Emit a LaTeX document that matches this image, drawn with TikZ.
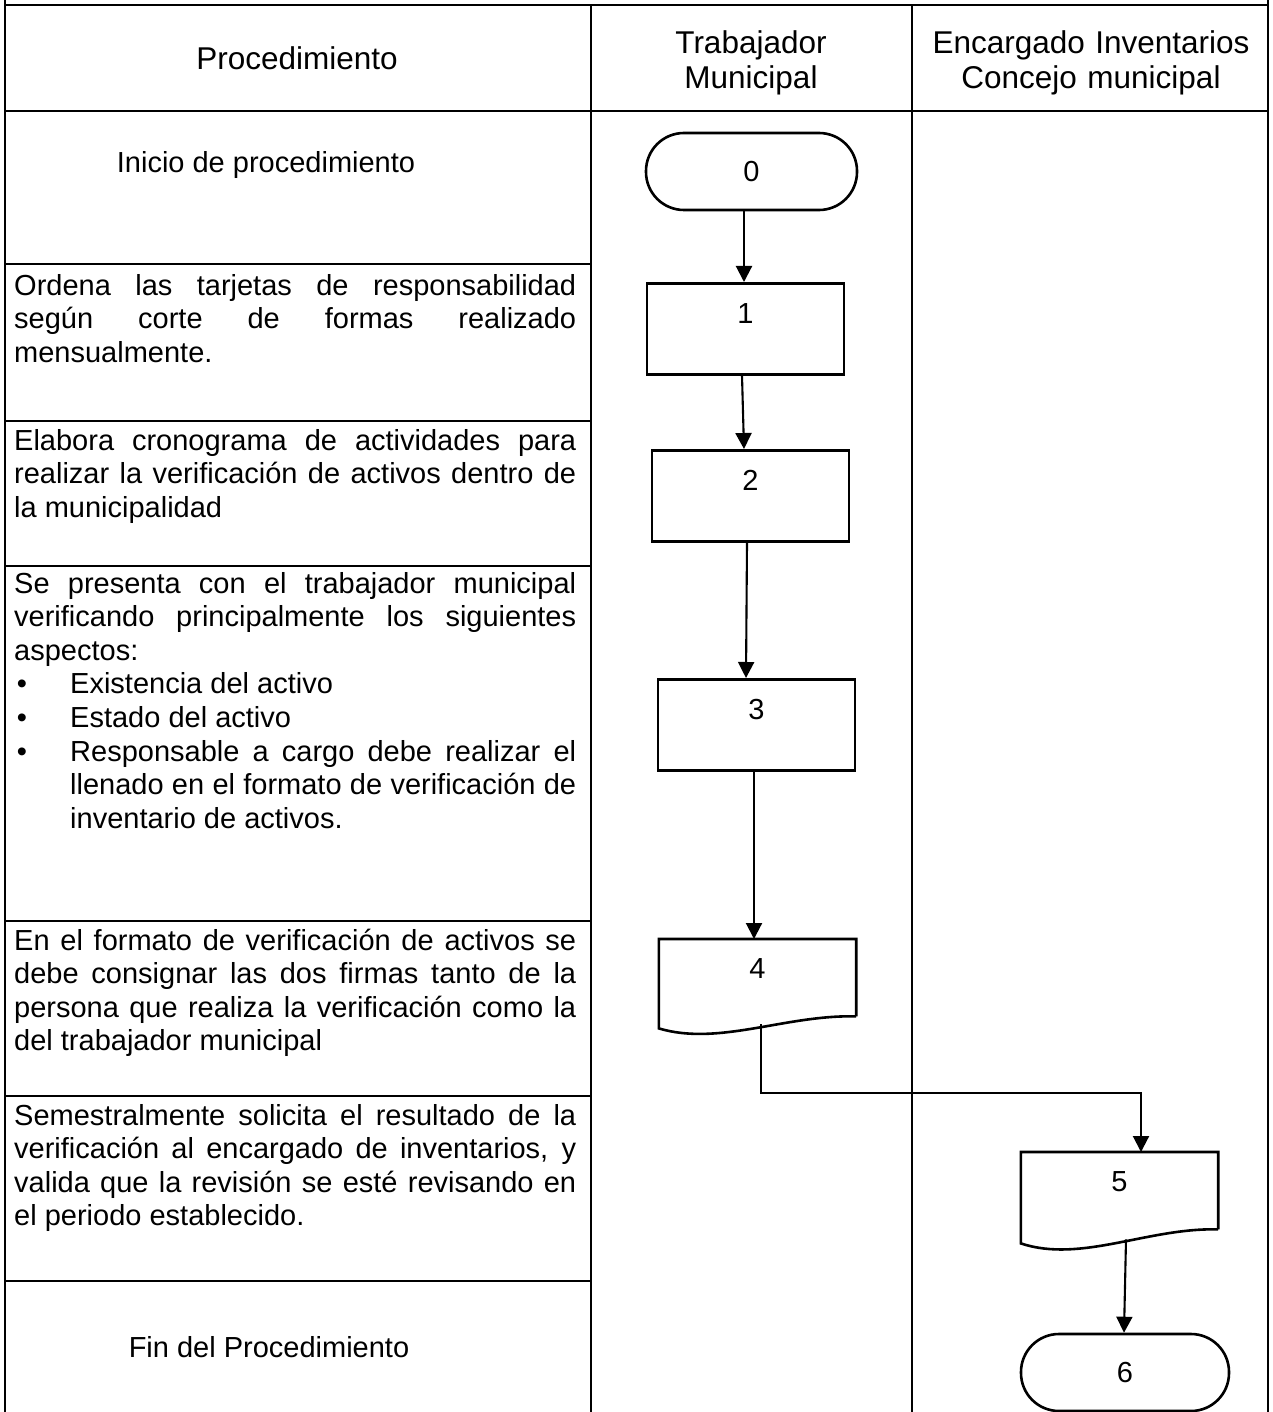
\documentclass[tikz,border=0pt]{standalone}
\usepackage{fontspec}
\setmainfont{Liberation Sans}
\usetikzlibrary{arrows.meta}
\newcommand\txtfont{\fontsize{29}{33.6}\selectfont}
\newcommand\headfont{\fontsize{31.5}{35}\selectfont}
\tolerance=10000
\hyphenpenalty=10000
\tikzset{
  grid/.style={line width=2.8pt, line cap=rect},
  txt/.style={font=\txtfont, text width=562pt, align=justify, inner sep=0pt},
  plain/.style={font=\txtfont, inner sep=0pt},
  head/.style={font=\headfont, text width=360pt, align=center, inner sep=0pt},
  procbox/.style={draw, line width=2.6pt, minimum width=197pt, inner xsep=0pt,
    inner ysep=19pt, text height=21pt, text depth=32pt, font=\txtfont},
  docbox/.style={minimum width=197pt, inner xsep=0pt,
    inner ysep=18pt, text height=21pt, text depth=20pt, font=\txtfont},
  docline/.style={line width=2.6pt, line join=miter},
  term/.style={draw, line width=2.6pt, rounded corners=38pt, minimum height=77pt,
    inner sep=0pt, font=\txtfont},
  flow/.style={line width=2.1pt, -{Triangle[width=16pt,length=16pt]}},
}
\begin{document}
\begin{tikzpicture}[x=1pt,y=-1pt]
\useasboundingbox (0,0) rectangle (1272,1412);

% table frame
\draw[grid] (5,0) -- (5,1412);
\draw[grid] (1268,0) -- (1268,1412);
\draw[grid] (591,5) -- (591,1412);
\draw[grid] (912,5) -- (912,1412);
\draw[grid] (5,5) -- (1268,5);
\draw[grid] (5,111) -- (1268,111);
\foreach \yy in {264,421,566,921,1096,1281}
  \draw[grid] (5,\yy) -- (591,\yy);

% column headings
\node[head, anchor=base] (hproc) at (297,69.5) {Procedimiento};
\node[head, anchor=base] (htrab) at (751,53.5) {Trabajador\\Municipal};
\node[head, anchor=base] (henc) at (1091,53.5) {Encargado Inventarios\\Concejo municipal};

% procedure steps
\node[plain, anchor=base] (p0) at (266,173) {Inicio de procedimiento};
\node[txt, anchor=base west] (p1) at (14,295)
  {Ordena las tarjetas de responsabilidad\linebreak según corte de formas realizado\linebreak mensualmente.};
\node[txt, anchor=base west] (p2) at (14,450)
  {Elabora cronograma de actividades para\linebreak realizar la verificación de activos dentro de\linebreak la municipalidad};
\node[txt, anchor=base west] (p3) at (14,593)
  {Se presenta con el trabajador municipal\linebreak verificando principalmente los siguientes\linebreak aspectos:};
\node[plain, anchor=base] (d1) at (22,693) {•};
\node[plain, anchor=base west] (i1) at (70,693) {Existencia del activo};
\node[plain, anchor=base] (d2) at (22,727) {•};
\node[plain, anchor=base west] (i2) at (70,727) {Estado del activo};
\node[plain, anchor=base] (d3) at (22,761) {•};
\node[txt, text width=506pt, anchor=base west] (i3) at (70,761)
  {Responsable a cargo debe realizar el\linebreak llenado en el formato de verificación de\linebreak inventario de activos.};
\node[txt, anchor=base west] (p4) at (14,950)
  {En el formato de verificación de activos se\linebreak debe consignar las dos firmas tanto de la\linebreak persona que realiza la verificación como la\linebreak del trabajador municipal};
\node[txt, anchor=base west] (p5) at (14,1125)
  {Semestralmente solicita el resultado de la\linebreak verificación al encargado de inventarios, y\linebreak valida que la revisión se esté revisando en\linebreak el periodo establecido.};
\node[plain, anchor=base] (p6) at (269,1357) {Fin del Procedimiento};

% flowchart symbols
\node[term, minimum width=211pt] (t0) at (751.5,171.5) {0};
\node[procbox, anchor=north] (b1) at (745.5,282) {1};
\node[procbox, anchor=north] (b2) at (750.5,449) {2};
\node[procbox, anchor=north] (b3) at (756.5,678) {3};
\node[docbox, anchor=north] (b4) at (757.5,939) {4};
\draw[docline] (b4.south east) -- (b4.north east) -- (b4.north west) -- ([yshift=-12pt]b4.south west)
  .. controls +(60,18) and ([shift={(-70,-2)}]b4.south east) .. (b4.south east);
\node[docbox, anchor=north] (b5) at (1119.5,1152) {5};
\draw[docline] (b5.south east) -- (b5.north east) -- (b5.north west) -- ([yshift=-14pt]b5.south west)
  .. controls +(60,20) and ([shift={(-70,-2)}]b5.south east) .. (b5.south east);
\node[term, minimum width=208pt] (t6) at (1125,1372.5) {6};

% connectors
\draw[flow] ([xshift=-7.5pt]t0.south) -- ([xshift=-1.5pt]b1.north);
\draw[flow] ([xshift=-3.5pt]b1.south) -- ([xshift=-6.5pt]b2.north);
\draw[flow] ([xshift=-3.5pt]b2.south) -- ([xshift=-10.5pt]b3.north);
\draw[flow] ([xshift=-2.5pt]b3.south) -- ([xshift=-3.5pt]b4.north);
\draw[flow] ([shift={(3.5,8)}]b4.south) |- ([shift={(21.5,-59)}]b5.north) -- ([xshift=21.5pt]b5.north);
\draw[flow] ([shift={(6.5,10)}]b5.south) -- ([xshift=-1pt]t6.north);
\end{tikzpicture}
\end{document}
